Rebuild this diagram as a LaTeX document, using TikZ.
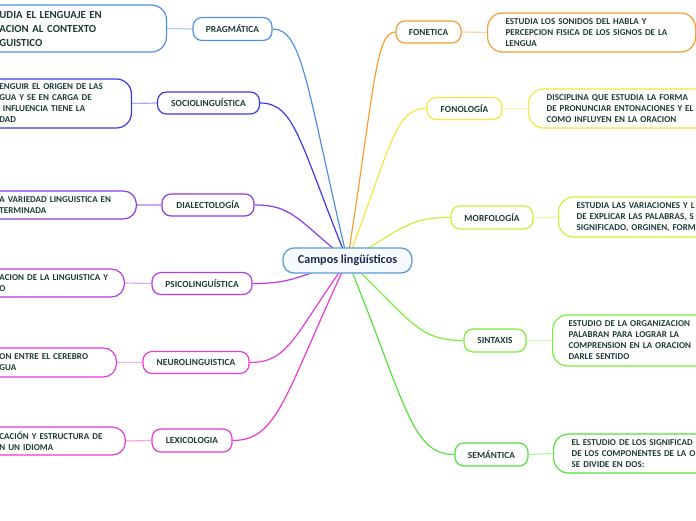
\documentclass[tikz,border=0pt]{standalone}
\usepackage{fontspec}
\setmainfont{Carlito}
\usetikzlibrary{backgrounds}
\definecolor{txt}{HTML}{1E3B36}
\definecolor{ctxt}{HTML}{1C2B4B}
\definecolor{cblue}{HTML}{5B9BD5}
\definecolor{cfill}{HTML}{F7FAFE}
\definecolor{cprag}{HTML}{4F8FE6}
\definecolor{csocio}{HTML}{3A3AEA}
\definecolor{cdial}{HTML}{8A3AE8}
\definecolor{cpsico}{HTML}{B83AE8}
\definecolor{cneuro}{HTML}{E83AD8}
\definecolor{clex}{HTML}{EE3AC8}
\definecolor{cfonet}{HTML}{F5A030}
\definecolor{cfonol}{HTML}{F5E542}
\definecolor{cmorf}{HTML}{C9F03A}
\definecolor{csint}{HTML}{7AEE3A}
\definecolor{csem}{HTML}{55E23A}
\newfontfamily\labfont[LetterSpace=1]{Carlito}
\newfontfamily\descfont[LetterSpace=0.5]{Carlito}
\tikzset{
  branch/.style={draw=#1, line width=1.2pt, fill=white, rounded corners=9pt,
    minimum height=22pt, inner sep=0pt, text=txt,
    font=\labfont\fontsize{9.3}{10}\selectfont\bfseries},
  dleft/.style={draw=#1, line width=1.2pt, fill=white, rounded corners=13pt,
    inner xsep=16pt, inner ysep=0pt, align=left, text=txt, anchor=east,
    font=\descfont\fontsize{9}{11}\selectfont\bfseries},
  dright/.style={draw=#1, line width=1.2pt, fill=white, rounded corners=13pt,
    inner xsep=18pt, inner ysep=0pt, align=left, text=txt, anchor=west,
    font=\descfont\fontsize{9}{11}\selectfont\bfseries},
  conn/.style={draw=#1, line width=1.2pt},
  dline/.style={draw=#1!45, line width=1.2pt},
}
\begin{document}
\begin{tikzpicture}[x=1pt,y=-1pt]
\useasboundingbox (0,0) rectangle (696,520);
\clip (0,0) rectangle (696,520);

% central node
\node[draw=cblue, fill=cfill, line width=1.3pt, rounded corners=11pt,
  minimum width=129pt, minimum height=25pt, inner sep=0pt, text=ctxt,
  font=\fontsize{12.2}{13}\selectfont\bfseries] (c) at (347.5,260.5) {Campos lingüísticos};

% left branches
\node[branch=cprag, minimum width=79pt, minimum height=23pt] (prag) at (232.5,29) {PRAGMÁTICA};
\node[branch=csocio, minimum width=102pt] (socio) at (208.5,103) {SOCIOLINGUÍSTICA};
\node[branch=cdial, minimum width=92pt] (dial) at (208,205) {DIALECTOLOGÍA};
\node[branch=cpsico, minimum width=100pt] (psico) at (202,283.5) {PSICOLINGUÍSTICA};
\node[branch=cneuro, minimum width=106pt] (neuro) at (196,362.5) {NEUROLINGUISTICA};
\node[branch=clex, minimum width=80pt, minimum height=23pt] (lex) at (192,440.5) {LEXICOLOGIA};

% right branches
\node[branch=cfonet, minimum width=65pt] (fonet) at (428.5,32) {FONETICA};
\node[branch=cfonol, minimum width=75pt] (fonol) at (464.5,108.5) {FONOLOGÍA};
\node[branch=cmorf, minimum width=82pt, minimum height=23pt] (morf) at (492,217.5) {MORFOLOGÍA};
\node[branch=csint, minimum width=62pt, minimum height=23pt] (sint) at (495,340.5) {SINTAXIS};
\node[branch=csem, minimum width=73pt, minimum height=23pt] (sem) at (491.5,454.5) {SEMÁNTICA};

% left descriptions
\node[dleft=cprag, rounded corners=15pt, text width=151pt, minimum height=47pt,
  font=\fontsize{10.8}{14}\selectfont\bfseries] (d1) at (167,28.5)
  {UDIA EL LENGUAJE EN\\ACION AL CONTEXTO\\GUISTICO};
\node[dleft=csocio, rounded corners=15pt, text width=116pt, minimum height=49pt] (d2) at (132,103.5)
  {ENGUIR EL ORIGEN DE LAS\\GUA Y SE EN CARGA DE\\\hspace*{3.5pt}INFLUENCIA TIENE LA\\DAD};
\node[dleft=cdial, text width=121pt, minimum height=28pt] (d3) at (137,205)
  {A VARIEDAD LINGUISTICA EN\\TERMINADA};
\node[dleft=cpsico, text width=109pt, minimum height=28pt] (d4) at (125,283)
  {ACION DE LA LINGUISTICA Y\\O};
\node[dleft=cneuro, text width=101pt, minimum height=29pt] (d5) at (117,362.5)
  {ON ENTRE EL CEREBRO\\GUA};
\node[dleft=clex, text width=110pt, minimum height=28pt] (d6) at (126,441)
  {CACIÓN Y ESTRUCTURA DE\\N UN IDIOMA};

% right descriptions
\node[dright=cfonet, rounded corners=15pt, text width=172pt, minimum height=39pt] (d7) at (487,32.5)
  {ESTUDIA LOS SONIDOS DEL HABLA Y\\PERCEPCION FISICA DE LOS SIGNOS DE LA\\LENGUA};
\node[dright=cfonol, rounded corners=15pt, text width=200pt, minimum height=39pt] (d8) at (528,108.5)
  {DISCIPLINA QUE ESTUDIA LA FORMA\\DE PRONUNCIAR ENTONACIONES Y EL\\COMO INFLUYEN EN LA ORACION};
\node[dright=cmorf, rounded corners=15pt, text width=200pt, minimum height=40pt] (d9) at (558,217)
  {ESTUDIA LAS VARIACIONES Y L\\DE EXPLICAR LAS PALABRAS, S\\SIGNIFICADO, ORGINEN, FORM};
\node[dright=csint, rounded corners=15pt, inner xsep=16pt, text width=200pt, minimum height=51pt] (d10) at (552,340.5)
  {ESTUDIO DE LA ORGANIZACION\\PALABRAN PARA LOGRAR LA\\COMPRENSION EN LA ORACION\\DARLE SENTIDO};
\node[dright=csem, rounded corners=15pt, text width=200pt, minimum height=39pt] (d11) at (553,453.5)
  {EL ESTUDIO DE LOS SIGNIFICAD\\DE LOS COMPONENTES DE LA O\\SE DIVIDE EN DOS:};

\begin{scope}[on background layer]
  % description links
  \draw[dline=cprag] (d1.east) -- (prag.west);
  \draw[dline=csocio] (d2.east) -- (socio.west);
  \draw[dline=cdial] (d3.east) -- (dial.west);
  \draw[dline=cpsico] (d4.east) -- (psico.west);
  \draw[dline=cneuro] (d5.east) -- (neuro.west);
  \draw[dline=clex] (d6.east) -- (lex.west);
  \draw[dline=cfonet] (fonet.east) -- (d7.west);
  \draw[dline=cfonol] (fonol.east) -- (d8.west);
  \draw[dline=cmorf] (morf.east) -- (d9.west);
  \draw[dline=csint] (sint.east) -- (d10.west);
  \draw[dline=csem] (sem.east) -- (d11.west);
  % main connectors
  \draw[conn=cprag] (c.center) .. controls +(-41,-174) and +(30,0) .. (prag.east);
  \draw[conn=csocio] (c.center) .. controls +(-48,-118) and +(35,0) .. (socio.east);
  \draw[conn=cdial] (c.center) .. controls +(-51,-42) and +(37,0) .. (dial.east);
  \draw[conn=cpsico] (c.center) .. controls +(-52,17) and +(38,0) .. (psico.east);
  \draw[conn=cneuro] (c.center) .. controls +(-54,76) and +(39,0) .. (neuro.east);
  \draw[conn=clex] (c.center) .. controls +(-63,134) and +(46,0) .. (lex.east);
  \draw[conn=cfonet] (c.center) .. controls +(27,-172) and +(-20,0) .. (fonet.west);
  \draw[conn=cfonol] (c.center) .. controls +(44,-115) and +(-32,0) .. (fonol.west);
  \draw[conn=cmorf] (c.center) .. controls +(57,-33) and +(-42,0) .. (morf.west);
  \draw[conn=csint] (c.center) .. controls +(64,59) and +(-47,0) .. (sint.west);
  \draw[conn=csem] (c.center) .. controls +(59,145) and +(-43,0) .. (sem.west);
\end{scope}
\end{tikzpicture}
\end{document}
